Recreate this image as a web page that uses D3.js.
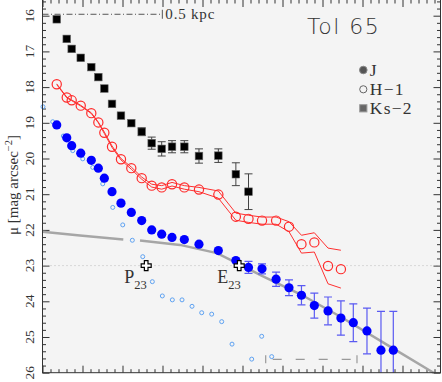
<!DOCTYPE html>
<html><head><meta charset="utf-8">
<script src="https://cdn.jsdelivr.net/npm/d3@7"></script>
<style>
body{margin:0;background:#fff;}
svg{display:block;}
.serif{font-family:"Liberation Serif","Times New Roman",serif;}
</style></head>
<body>
<svg id="chart" width="442" height="382"></svg>
<script>
// ---------- data ----------
const radius = [1.78,3.03,3.65,4.78,6.1,6.98,7.73,8.69,9.81,11.1,12.4,13.65,14.9,16.19,17.73,19.56,21.98,24.17,25.75,27.44,29.2,30.81,32.37,33.98,35.69,37.3,38.85,40.56,42.31,43.85];
const muJ = [19.06,19.42,19.64,19.85,20.05,20.27,20.55,20.93,21.25,21.51,21.74,22.00,22.12,22.21,22.27,22.40,22.58,22.86,23.05,23.09,23.38,23.62,23.83,24.12,24.27,24.47,24.60,24.83,25.37,25.37];
const errJ = [0,0,0,0,0,0,0,0,0,0,0,0,0,0,0,0,0,0,0.17,0.14,0.2,0.22,0.27,0.35,0.39,0.48,0.53,0.64,1.09,1.09];
const muH = [17.92,18.29,18.37,18.52,18.73,18.99,19.28,19.67,20.02,20.27,20.55,20.76,20.81,20.72,20.81,20.87,21.01,21.63,21.69,21.74,21.74,21.91,22.40,22.35,23.01,23.10];
const errH = [0.01,0.01,0.01,0.01,0.01,0.01,0.02,0.02,0.02,0.03,0.03,0.04,0.05,0.05,0.05,0.06,0.1,0.1,0.1,0.1,0.1,0.14,0.25,0.27,0.5,0.53];
const muK = [16.10,16.65,16.93,17.18,17.44,17.72,18.04,18.47,18.80,19.01,19.25,19.57,19.73,19.67,19.67,19.93,19.92,20.44,20.93];
const errK = [0,0,0,0,0,0,0,0,0,0,0.11,0.17,0.2,0.17,0.17,0.2,0.19,0.32,0.5];
const rOther = [0.06,1.28,2.6,3.78,5.03,6.28,7.53,8.78,10.03,11.23,12.53,13.73,14.98,16.23,17.44,18.69,19.9,21.15,22.4,23.69,26.15,27.4,28.65];
const muOther = [18.55,18.97,19.37,19.78,20.01,20.25,20.71,21.37,21.86,22.29,22.75,23.45,23.85,23.96,23.96,24.14,24.32,24.36,24.57,25.20,25.62,24.98,25.55];
const fitInnerR = [0,4.69,10.1];
const fitInnerMu = [22.05,22.16,22.27];
const fitOuterR = [12.19,17.19,21.81,24.56,27.44,32.31,37.31,43.81,48.88];
const fitOuterMu = [22.30,22.42,22.65,22.96,23.29,23.81,24.44,25.32,26.0];
const markerNames = ["P", "E"];
const markerR = [12.96, 24.59];
const markerMu = [23, 23];
const refMu = 23;
const scaleBarR = [0, 14.98];
const scaleBarMu = 15.96;
const scaleBarLabel = "0.5 kpc";
const dashBarR = [27.9, 39.31];
const dashBarMu = 25.625;
const yTicks = [16,17,18,19,20,21,22,23,24,25,26];
const legendLabels = ["J", "H\u22121", "Ks\u22122"];
const title = "Tol 65";

// ---------- layout ----------
const svg = d3.select("#chart");
const L = 42.5, R = 440.5, B = 372.7, T = 0;
const x = d3.scaleLinear().domain([0, 49.75]).range([L, R]);
const y = d3.scaleLinear().domain([16, 26]).range([15.7, 372.7]);

svg.append("rect").attr("x", L).attr("y", T).attr("width", R - L).attr("height", B - T).attr("fill", "#f4f4f4");

// ticks
const xMajor = d3.range(0, 50, 5);
const xMinor = d3.range(0, 50, 1).filter(v => v % 5 !== 0);
const yMinor = d3.range(15.6, 26.001, 0.2).filter(v => Math.abs(v - Math.round(v)) > 0.01);
function styleAxis(g){ g.select(".domain").remove(); g.selectAll("line").attr("stroke", "#333"); }
svg.append("g").attr("transform", `translate(0,${B})`).call(d3.axisBottom(x).tickValues(xMajor).tickSize(-7).tickFormat("")).call(styleAxis);
svg.append("g").attr("transform", `translate(0,${B})`).call(d3.axisBottom(x).tickValues(xMinor).tickSize(-3.5).tickFormat("")).call(styleAxis);
svg.append("g").attr("transform", `translate(0,${T})`).call(d3.axisTop(x).tickValues(xMajor).tickSize(-7).tickFormat("")).call(styleAxis);
svg.append("g").attr("transform", `translate(0,${T})`).call(d3.axisTop(x).tickValues(xMinor).tickSize(-3.5).tickFormat("")).call(styleAxis);
svg.append("g").attr("transform", `translate(${L},0)`).call(d3.axisLeft(y).tickValues(yTicks).tickSize(-7).tickFormat("")).call(styleAxis);
svg.append("g").attr("transform", `translate(${L},0)`).call(d3.axisLeft(y).tickValues(yMinor).tickSize(-3.5).tickFormat("")).call(styleAxis);
svg.append("g").attr("transform", `translate(${R},0)`).call(d3.axisRight(y).tickValues(yTicks).tickSize(-7).tickFormat("")).call(styleAxis);
svg.append("g").attr("transform", `translate(${R},0)`).call(d3.axisRight(y).tickValues(yMinor).tickSize(-3.5).tickFormat("")).call(styleAxis);

// tick labels (rotated)
svg.append("g").selectAll("text").data(yTicks).join("text")
  .attr("class", "serif")
  .attr("transform", d => `translate(34,${y(d)}) rotate(-90)`)
  .attr("text-anchor", "middle").attr("font-size", 13.5).attr("fill", "#333")
  .text(d => d);

// y label
const yl = svg.append("text").attr("class", "serif")
  .attr("transform", "translate(17.5,235) rotate(-90)")
  .attr("font-size", 15).attr("fill", "#333");
yl.append("tspan").text("\u03bc [mag arcsec");
yl.append("tspan").attr("dy", -6).attr("font-size", 10.5).text("\u22122");
yl.append("tspan").attr("dy", 6).text("]");

// reference dotted line
svg.append("line").attr("x1", L).attr("x2", R).attr("y1", y(refMu)).attr("y2", y(refMu))
  .attr("stroke", "#bbb").attr("stroke-dasharray", "1,3");

// fit curve
const line = d3.line().x(d => x(d[0])).y(d => y(d[1]));
svg.append("path").attr("d", line(d3.zip(fitInnerR, fitInnerMu))).attr("fill", "none").attr("stroke", "#a6a6a6").attr("stroke-width", 2.5);
svg.append("path").attr("d", line(d3.zip(fitOuterR, fitOuterMu))).attr("fill", "none").attr("stroke", "#a6a6a6").attr("stroke-width", 2.5);

// scale bar
svg.append("line").attr("x1", x(scaleBarR[0])).attr("x2", x(scaleBarR[1])).attr("y1", y(scaleBarMu)).attr("y2", y(scaleBarMu))
  .attr("stroke", "#555").attr("stroke-dasharray", "6,2.5,1,2.5");
svg.append("line").attr("x1", x(scaleBarR[1])).attr("x2", x(scaleBarR[1])).attr("y1", y(scaleBarMu) - 4.5).attr("y2", y(scaleBarMu) + 4.5).attr("stroke", "#555");
svg.append("text").attr("class", "serif").attr("x", x(scaleBarR[1]) + 3).attr("y", y(scaleBarMu) + 5)
  .attr("font-size", 15).attr("letter-spacing", 0.8).attr("fill", "#333").text(scaleBarLabel);

// bottom dashed bar
svg.append("line").attr("x1", x(dashBarR[0])).attr("x2", x(dashBarR[1])).attr("y1", y(dashBarMu)).attr("y2", y(dashBarMu))
  .attr("stroke", "#999").attr("stroke-width", 1.2).attr("stroke-dasharray", "0,7,9,7");
[dashBarR[0], dashBarR[1]].forEach(r => {
  svg.append("line").attr("x1", x(r)).attr("x2", x(r)).attr("y1", y(dashBarMu) - 4).attr("y2", y(dashBarMu) + 4).attr("stroke", "#999").attr("stroke-width", 1.2);
});

// other (light blue) profile
svg.append("g").selectAll("circle").data(d3.zip(rOther, muOther)).join("circle")
  .attr("cx", d => x(d[0])).attr("cy", d => y(d[1])).attr("r", 2)
  .attr("fill", "none").attr("stroke", "#5ea2f2").attr("stroke-width", 1);

// H envelope
const hData = muH.map((m, i) => [radius[i], m, errH[i]]);
svg.append("path").attr("d", line(hData.map(d => [d[0], d[1] - d[2]]))).attr("fill", "none").attr("stroke", "#ff3030").attr("stroke-width", 1);
svg.append("path").attr("d", line(hData.map(d => [d[0], d[1] + d[2]]))).attr("fill", "none").attr("stroke", "#ff3030").attr("stroke-width", 1);
svg.append("g").selectAll("circle").data(hData).join("circle")
  .attr("cx", d => x(d[0])).attr("cy", d => y(d[1])).attr("r", 4.6)
  .attr("fill", "none").attr("stroke", "#ff2a2a").attr("stroke-width", 1.2);

// Ks
const kData = muK.map((m, i) => [radius[i], m, errK[i]]);
function errBars(g, data, color, width){
  const f = data.filter(d => d[2] > 0);
  g.selectAll("line.v").data(f).join("line").attr("class", "v")
    .attr("x1", d => x(d[0])).attr("x2", d => x(d[0])).attr("y1", d => y(d[1] - d[2])).attr("y2", d => y(d[1] + d[2]))
    .attr("stroke", color).attr("stroke-width", width);
  g.selectAll("line.t").data(f).join("line").attr("class", "t")
    .attr("x1", d => x(d[0]) - 4).attr("x2", d => x(d[0]) + 4).attr("y1", d => y(d[1] - d[2])).attr("y2", d => y(d[1] - d[2]))
    .attr("stroke", color).attr("stroke-width", width);
  g.selectAll("line.b").data(f).join("line").attr("class", "b")
    .attr("x1", d => x(d[0]) - 4).attr("x2", d => x(d[0]) + 4).attr("y1", d => y(d[1] + d[2])).attr("y2", d => y(d[1] + d[2]))
    .attr("stroke", color).attr("stroke-width", width);
}
errBars(svg.append("g"), kData, "#444", 1);
svg.append("g").selectAll("rect").data(kData).join("rect")
  .attr("x", d => x(d[0]) - 3.8).attr("y", d => y(d[1]) - 3.8).attr("width", 7.6).attr("height", 7.6)
  .attr("fill", "#000").attr("stroke", "#666").attr("stroke-width", 0.6);

// J
const jData = muJ.map((m, i) => [radius[i], m, errJ[i]]);
const clipId = "plotclip";
svg.append("clipPath").attr("id", clipId).append("rect").attr("x", L).attr("y", T).attr("width", R - L).attr("height", B - T);
errBars(svg.append("g").attr("clip-path", `url(#${clipId})`), jData, "#5a5af2", 1.2);
svg.append("g").selectAll("circle").data(jData).join("circle")
  .attr("cx", d => x(d[0])).attr("cy", d => y(d[1])).attr("r", 4.6)
  .attr("fill", "#0000ff");

// markers (open crosses)
const crossPath = "M-1.8,-5H1.8V-1.8H5V1.8H1.8V5H-1.8V1.8H-5V-1.8H-1.8Z";
markerNames.forEach((n, i) => {
  const cx = x(markerR[i]), cy = y(markerMu[i]);
  svg.append("path").attr("d", crossPath).attr("transform", `translate(${cx},${cy})`)
    .attr("fill", "#fff").attr("stroke", "#000").attr("stroke-width", 1.2);
  const t = svg.append("text").attr("class", "serif").attr("x", cx - 22).attr("y", cy + 17.5).attr("fill", "#333").attr("font-size", 18);
  t.append("tspan").text(n);
  t.append("tspan").attr("dy", 5.5).attr("font-size", 12.5).text("23");
});

// title
svg.append("text").attr("x", 307).attr("y", 33.5)
  .attr("font-family", "DejaVu Sans, sans-serif").attr("font-weight", 200)
  .attr("font-size", 22).attr("letter-spacing", 1.5).attr("fill", "#333").text(title);

// legend
const legX = 363.3, legY = [70, 89.3, 108.3];
svg.append("circle").attr("cx", legX).attr("cy", legY[0]).attr("r", 3.8).attr("fill", "#555").attr("stroke", "#888").attr("stroke-width", 1);
svg.append("circle").attr("cx", legX).attr("cy", legY[1]).attr("r", 3.6).attr("fill", "none").attr("stroke", "#666").attr("stroke-width", 1);
svg.append("rect").attr("x", legX - 3.6).attr("y", legY[2] - 3.6).attr("width", 7.2).attr("height", 7.2).attr("fill", "#666").attr("stroke", "#999").attr("stroke-width", 1);
svg.append("g").selectAll("text").data(legendLabels).join("text")
  .attr("class", "serif").attr("x", legX + 6.5).attr("y", (d, i) => legY[i] + 5.5)
  .attr("font-size", 17.5).attr("letter-spacing", 1.2).attr("fill", "#333").text(d => d);

// frame
svg.append("rect").attr("x", L).attr("y", T - 1).attr("width", R - L).attr("height", B - T + 1)
  .attr("fill", "none").attr("stroke", "#333").attr("stroke-width", 1);
</script>
</body></html>
